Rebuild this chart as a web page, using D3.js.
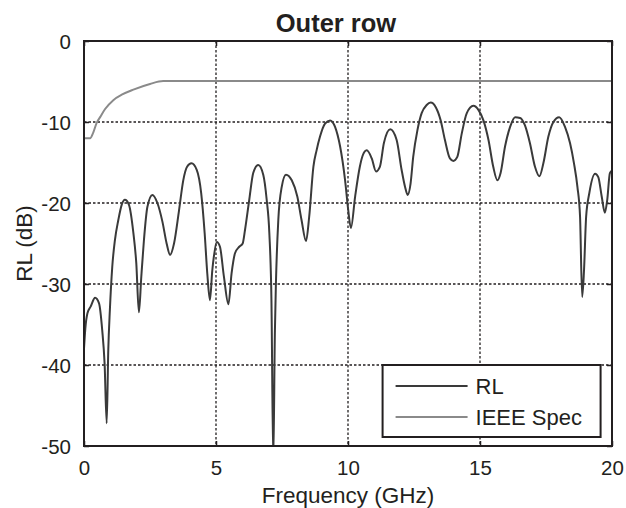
<!DOCTYPE html>
<html>
<head>
<meta charset="utf-8">
<script src="https://cdn.jsdelivr.net/npm/d3@7"></script>
<style>
    body { margin: 0; background: #fff; }
    svg { display: block; }
    text { font-family: "Liberation Sans", Arial, sans-serif; fill: #231f20; }
</style>
</head>
<body>
<div id="chart"></div>
<script>
// Measured return loss (dB) vs frequency (GHz)
const rlFreq = [0.00, 0.05, 0.13, 0.25, 0.42, 0.57, 0.69, 0.78, 0.86, 0.92, 0.98, 1.07, 1.17, 1.30, 1.43,
    1.55, 1.70, 1.87, 1.98, 2.08, 2.17, 2.27, 2.40, 2.59, 2.78, 2.97, 3.13, 3.26, 3.41, 3.60, 3.76,
    3.91, 4.07, 4.27, 4.44, 4.57, 4.67, 4.77, 4.86, 4.92, 5.03, 5.15, 5.30, 5.47, 5.59, 5.72, 5.88,
    6.01, 6.10, 6.26, 6.41, 6.60, 6.79, 6.92, 7.02, 7.10, 7.17, 7.23, 7.27, 7.36, 7.49, 7.65, 7.87,
    8.08, 8.24, 8.41, 8.53, 8.69, 8.81, 8.94, 9.13, 9.32, 9.51, 9.70, 9.89, 10.01, 10.11, 10.27, 10.45,
    10.55, 10.71, 10.90, 11.06, 11.21, 11.36, 11.60, 11.84, 12.03, 12.16, 12.26, 12.37, 12.47, 12.63,
    12.79, 12.98, 13.13, 13.33, 13.51, 13.67, 13.86, 13.99, 14.14, 14.31, 14.50, 14.75, 14.94, 15.13,
    15.32, 15.50, 15.66, 15.78, 15.95, 16.14, 16.33, 16.52, 16.70, 16.89, 17.08, 17.25, 17.40, 17.59,
    17.78, 18.00, 18.22, 18.41, 18.56, 18.69, 18.79, 18.87, 18.94, 19.02, 19.14, 19.36, 19.48, 19.61,
    19.73, 19.82, 19.92, 20.00];
const rlValues = [-38.0, -35.5, -33.6, -32.8, -31.7, -32.4, -35.7, -39.8, -47.2, -38.1, -33.2, -27.9, -24.6, -22.1, -20.2,
    -19.6, -20.2, -23.7, -27.4, -33.5, -29.1, -24.6, -20.5, -19.0, -20.0, -22.3, -25.0, -26.4, -25.0, -20.9, -17.2,
    -15.5, -15.1, -15.9, -18.8, -23.7, -28.7, -32.0, -28.3, -26.6, -24.8, -25.4, -29.1, -32.5, -28.7, -26.2, -25.4,
    -25.0, -23.3, -19.6, -16.3, -15.3, -16.5, -19.6, -23.7, -32.0, -52.0, -36.0, -29.9, -22.1, -18.0, -16.5, -17.2,
    -19.2, -22.1, -24.7, -21.7, -15.5, -13.5, -11.8, -10.2, -9.8, -10.6, -13.0, -17.2, -20.9, -23.1, -19.2, -15.5,
    -14.2, -13.5, -14.5, -16.1, -15.5, -12.6, -10.9, -12.2, -15.9, -18.0, -19.0, -17.6, -14.3, -11.0,
    -8.9, -7.9, -7.6, -8.2, -9.8, -12.2, -14.5, -14.8, -14.3, -11.4, -8.9, -8.0, -8.5, -9.8,
    -12.2, -15.5, -17.2, -16.3, -13.0, -10.6, -9.4, -9.5, -10.4, -12.6, -15.5, -16.7, -15.1, -11.8,
    -10.0, -9.4, -10.6, -12.6, -15.1, -18.0, -21.7, -31.6, -28.3, -21.7, -18.8, -16.4, -16.8, -19.2,
    -21.2, -19.6, -16.3, -16.0];

// IEEE return loss limit
const ieeeFreq = [0, 0.23, 0.35, 0.48, 0.61, 0.80, 1.11, 1.45, 1.87, 2.50, 3.00, 20];
const ieeeValues = [-12, -12, -11.3, -10.1, -9.4, -8.4, -7.3, -6.6, -6.0, -5.3, -4.95, -4.95];

const xTicks = [0, 5, 10, 15, 20];
const yTicks = [0, -10, -20, -30, -40, -50];

const seriesNames = ['RL', 'IEEE Spec'];
const seriesColors = ['#3a3a3a', '#8a8a8a'];

const width = 626, height = 508;
const margin = { top: 41, right: 14, bottom: 62, left: 84 };
const innerW = width - margin.left - margin.right;
const innerH = height - margin.top - margin.bottom;
const ink = '#231f20';

const svg = d3.select('#chart').append('svg')
    .attr('width', width)
    .attr('height', height);

const x = d3.scaleLinear().domain([0, 20]).range([0, innerW]);
const y = d3.scaleLinear().domain([-50, 0]).range([innerH, 0]);

const g = svg.append('g').attr('transform', `translate(${margin.left},${margin.top})`);

g.append('clipPath').attr('id', 'plot-clip')
    .append('rect').attr('width', innerW).attr('height', innerH);

// Grid lines (dotted)
g.append('g').selectAll('line')
    .data(xTicks.slice(1, -1))
    .join('line')
    .attr('x1', d => x(d)).attr('x2', d => x(d))
    .attr('y1', 0).attr('y2', innerH)
    .attr('stroke', ink).attr('stroke-width', 1.3)
    .attr('stroke-dasharray', '2.5,2');

g.append('g').selectAll('line')
    .data(yTicks.slice(1, -1))
    .join('line')
    .attr('x1', 0).attr('x2', innerW)
    .attr('y1', d => y(d)).attr('y2', d => y(d))
    .attr('stroke', ink).attr('stroke-width', 1.3)
    .attr('stroke-dasharray', '2.5,2');

// Axes with inward ticks; plain hyphen for negatives like the original
const plainFmt = d => String(d);
const tickFont = '20.5px';
const xAxis = g.append('g').attr('transform', `translate(0,${innerH})`)
    .call(d3.axisBottom(x).tickValues(xTicks).tickSize(-5).tickPadding(14).tickFormat(plainFmt));
const xAxisTop = g.append('g')
    .call(d3.axisTop(x).tickValues(xTicks).tickSize(-5).tickFormat(''));
const yAxis = g.append('g')
    .call(d3.axisLeft(y).tickValues(yTicks).tickSize(-5).tickPadding(13).tickFormat(plainFmt));
const yAxisRight = g.append('g').attr('transform', `translate(${innerW},0)`)
    .call(d3.axisRight(y).tickValues(yTicks).tickSize(-5).tickFormat(''));

[xAxis, xAxisTop, yAxis, yAxisRight].forEach(a => {
    a.select('.domain').remove();
    a.selectAll('line').attr('stroke', ink).attr('stroke-width', 1.5);
    a.selectAll('text')
        .style('font-family', '"Liberation Sans", Arial, sans-serif')
        .style('font-size', tickFont)
        .attr('fill', ink);
});
yAxis.selectAll('text').attr('dy', '0.36em');

// Lines
const line = d3.line()
    .x(d => x(d[0]))
    .y(d => y(d[1]))
    .curve(d3.curveMonotoneX);

const rlData = rlFreq.map((f, i) => [f, rlValues[i]]);
const ieeeData = ieeeFreq.map((f, i) => [f, ieeeValues[i]]);

const plot = g.append('g').attr('clip-path', 'url(#plot-clip)');

plot.append('path')
    .datum(ieeeData)
    .attr('d', line)
    .attr('fill', 'none')
    .attr('stroke', seriesColors[1])
    .attr('stroke-width', 2);

plot.append('path')
    .datum(rlData)
    .attr('d', line)
    .attr('fill', 'none')
    .attr('stroke', seriesColors[0])
    .attr('stroke-width', 2)
    .attr('stroke-linejoin', 'round');

// Frame
g.append('rect')
    .attr('width', innerW).attr('height', innerH)
    .attr('fill', 'none')
    .attr('stroke', ink).attr('stroke-width', 2);

// Legend
const legend = g.append('g').attr('transform', `translate(${x(11.31)},${y(-40)})`);
legend.append('rect')
    .attr('width', 218).attr('height', 72)
    .attr('fill', '#fff')
    .attr('stroke', ink).attr('stroke-width', 2);

seriesNames.forEach((name, i) => {
    const ly = 21 + i * 31;
    legend.append('line')
        .attr('x1', 13).attr('x2', 85)
        .attr('y1', ly).attr('y2', ly)
        .attr('stroke', seriesColors[i]).attr('stroke-width', 2);
    legend.append('text')
        .attr('x', 93).attr('y', ly)
        .attr('dy', '0.36em')
        .style('font-size', '22px')
        .text(name);
});

// Title and axis labels
svg.append('text')
    .attr('x', 336).attr('y', 32)
    .attr('text-anchor', 'middle')
    .style('font-size', '25.5px')
    .style('font-weight', 'bold')
    .text('Outer row');

svg.append('text')
    .attr('x', margin.left + innerW / 2).attr('y', 503)
    .attr('text-anchor', 'middle')
    .style('font-size', '22.5px')
    .text('Frequency (GHz)');

svg.append('text')
    .attr('transform', `translate(32,${margin.top + innerH / 2}) rotate(-90)`)
    .attr('text-anchor', 'middle')
    .style('font-size', '22.5px')
    .text('RL (dB)');
</script>
</body>
</html>
